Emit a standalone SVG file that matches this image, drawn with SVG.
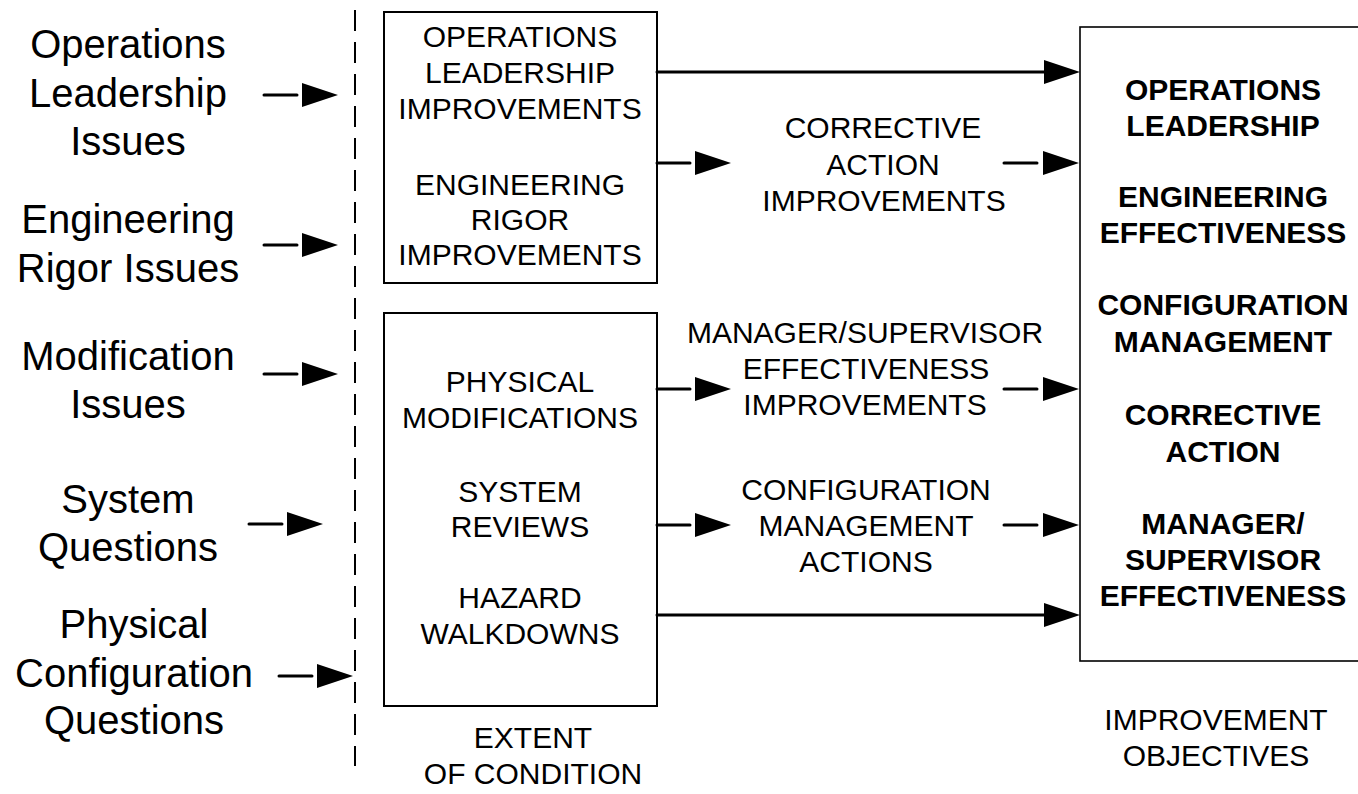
<svg xmlns="http://www.w3.org/2000/svg" xmlns:xlink="http://www.w3.org/1999/xlink" width="1358" height="794" viewBox="0 0 1358 794">
  <style>
    text { font-family: "Liberation Sans", Arial, sans-serif; fill: #000; text-anchor: middle; }
    .issue { font-size: 40px; }
    .box-text { font-size: 30px; }
    .goal { font-size: 30px; font-weight: bold; }
    .box { fill: #fff; stroke: #000; stroke-width: 2; }
    .goal-box { fill: #fff; stroke: #000; stroke-width: 1.6; }
    .link { fill: none; stroke: #000; stroke-width: 3; stroke-linecap: round; }
    .divider { fill: none; stroke: #000; stroke-width: 2; stroke-dasharray: 21 11; }
  </style>
  <defs>
    <!-- filled arrowhead, tip at origin pointing right -->
    <path id="head" d="M-36,-12 L0,0 L-36,12 Z" fill="#000"/>
  </defs>

  <rect width="1358" height="794" fill="#fff"/>

  <!-- dashed divider -->
  <line class="divider" x1="355" y1="10" x2="355" y2="766"/>

  <!-- issue labels -->
  <g id="issue-ops">
    <text class="issue" x="128" y="58">Operations</text>
    <text class="issue" x="128" y="107">Leadership</text>
    <text class="issue" x="128" y="155">Issues</text>
  </g>
  <g id="issue-eng">
    <text class="issue" x="128" y="233">Engineering</text>
    <text class="issue" x="128" y="282">Rigor Issues</text>
  </g>
  <g id="issue-mod">
    <text class="issue" x="128" y="370">Modification</text>
    <text class="issue" x="128" y="418">Issues</text>
  </g>
  <g id="issue-sys">
    <text class="issue" x="128" y="513">System</text>
    <text class="issue" x="128" y="561">Questions</text>
  </g>
  <g id="issue-phys">
    <text class="issue" x="134" y="638">Physical</text>
    <text class="issue" x="134" y="687">Configuration</text>
    <text class="issue" x="134" y="734">Questions</text>
  </g>

  <!-- improvement box -->
  <g id="improvements">
    <rect class="box" x="384" y="12" width="273" height="271"/>
    <text class="box-text" x="520" y="47">OPERATIONS</text>
    <text class="box-text" x="520" y="83">LEADERSHIP</text>
    <text class="box-text" x="520" y="119">IMPROVEMENTS</text>
    <text class="box-text" x="520" y="195">ENGINEERING</text>
    <text class="box-text" x="520" y="230">RIGOR</text>
    <text class="box-text" x="520" y="265">IMPROVEMENTS</text>
  </g>

  <!-- extent of condition box -->
  <g id="extent">
    <rect class="box" x="384" y="313" width="273" height="393"/>
    <text class="box-text" x="520" y="392">PHYSICAL</text>
    <text class="box-text" x="520" y="428">MODIFICATIONS</text>
    <text class="box-text" x="520" y="502">SYSTEM</text>
    <text class="box-text" x="520" y="537">REVIEWS</text>
    <text class="box-text" x="520" y="608">HAZARD</text>
    <text class="box-text" x="520" y="644">WALKDOWNS</text>
  </g>
  <g id="extent-caption">
    <text class="box-text" x="533" y="748">EXTENT</text>
    <text class="box-text" x="533" y="784">OF CONDITION</text>
  </g>

  <!-- intermediate actions -->
  <g id="corrective-action">
    <text class="box-text" x="883" y="138">CORRECTIVE</text>
    <text class="box-text" x="883" y="175">ACTION</text>
    <text class="box-text" x="884" y="211">IMPROVEMENTS</text>
  </g>
  <g id="manager-supervisor">
    <text class="box-text" x="865" y="343">MANAGER/SUPERVISOR</text>
    <text class="box-text" x="866" y="379">EFFECTIVENESS</text>
    <text class="box-text" x="865" y="415">IMPROVEMENTS</text>
  </g>
  <g id="config-mgmt">
    <text class="box-text" x="866" y="500">CONFIGURATION</text>
    <text class="box-text" x="866" y="536">MANAGEMENT</text>
    <text class="box-text" x="866" y="572">ACTIONS</text>
  </g>

  <!-- objectives box -->
  <g id="objectives">
    <rect class="goal-box" x="1080" y="27" width="290" height="634"/>
    <text class="goal" x="1223" y="100">OPERATIONS</text>
    <text class="goal" x="1223" y="136">LEADERSHIP</text>
    <text class="goal" x="1223" y="207">ENGINEERING</text>
    <text class="goal" x="1223" y="243">EFFECTIVENESS</text>
    <text class="goal" x="1223" y="315">CONFIGURATION</text>
    <text class="goal" x="1223" y="352">MANAGEMENT</text>
    <text class="goal" x="1223" y="425">CORRECTIVE</text>
    <text class="goal" x="1223" y="462">ACTION</text>
    <text class="goal" x="1223" y="534">MANAGER/</text>
    <text class="goal" x="1223" y="570">SUPERVISOR</text>
    <text class="goal" x="1223" y="606">EFFECTIVENESS</text>
  </g>
  <g id="objectives-caption">
    <text class="box-text" x="1216" y="730">IMPROVEMENT</text>
    <text class="box-text" x="1216" y="766">OBJECTIVES</text>
  </g>

  <!-- connectors -->
  <g id="connectors">
    <!-- issues into the divider -->
    <line class="link" x1="264" y1="95" x2="297" y2="95"/>
    <use xlink:href="#head" x="338" y="95"/>
    <line class="link" x1="264" y1="245" x2="297" y2="245"/>
    <use xlink:href="#head" x="338" y="245"/>
    <line class="link" x1="264" y1="374" x2="297" y2="374"/>
    <use xlink:href="#head" x="338" y="374"/>
    <line class="link" x1="249" y1="524" x2="282" y2="524"/>
    <use xlink:href="#head" x="323" y="524"/>
    <line class="link" x1="279" y1="676" x2="312" y2="676"/>
    <use xlink:href="#head" x="353" y="676"/>

    <!-- direct links to objectives -->
    <line class="link" x1="657" y1="72" x2="1046" y2="72"/>
    <use xlink:href="#head" x="1080" y="72"/>
    <line class="link" x1="657" y1="615" x2="1046" y2="615"/>
    <use xlink:href="#head" x="1080" y="615"/>

    <!-- links through intermediate actions -->
    <line class="link" x1="657" y1="163" x2="690" y2="163"/>
    <use xlink:href="#head" x="731" y="163"/>
    <line class="link" x1="1004" y1="163" x2="1037" y2="163"/>
    <use xlink:href="#head" x="1079" y="163"/>

    <line class="link" x1="657" y1="389" x2="690" y2="389"/>
    <use xlink:href="#head" x="731" y="389"/>
    <line class="link" x1="1004" y1="389" x2="1037" y2="389"/>
    <use xlink:href="#head" x="1079" y="389"/>

    <line class="link" x1="657" y1="525" x2="690" y2="525"/>
    <use xlink:href="#head" x="731" y="525"/>
    <line class="link" x1="1004" y1="525" x2="1037" y2="525"/>
    <use xlink:href="#head" x="1079" y="525"/>
  </g>
</svg>
